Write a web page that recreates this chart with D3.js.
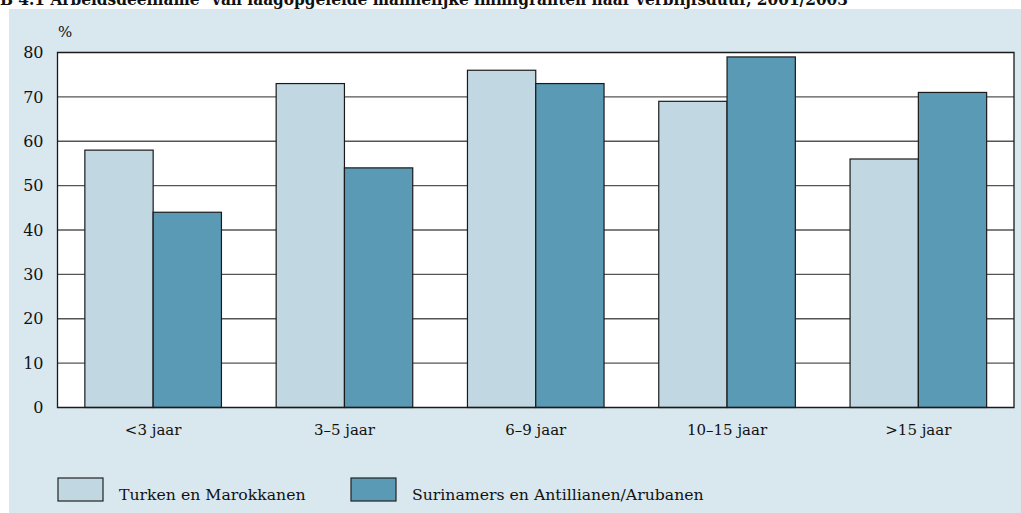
<!DOCTYPE html>
<html>
<head>
<meta charset="utf-8">
<script src="https://cdn.jsdelivr.net/npm/d3@7"></script>
<style>
  html, body { margin: 0; padding: 0; background: #ffffff; }
  svg text { font-family: "DejaVu Serif", "Liberation Serif", serif !important; }
</style>
</head>
<body>
<div id="chart"></div>
<script>
// Data
const categories = ["<3 jaar", "3\u20135 jaar", "6\u20139 jaar", "10\u201315 jaar", ">15 jaar"]
const seriesNames = ["Turken en Marokkanen", "Surinamers en Antillianen/Arubanen"]
const turkenMarokkanen = [58, 73, 76, 69, 56]
const surinamersAntillianen = [44, 54, 73, 79, 71]
const yTicks = [0, 10, 20, 30, 40, 50, 60, 70, 80]
const title = "B 4.1  Arbeidsdeelname\u1d43 van laagopgeleide mannelijke immigranten naar verblijfsduur, 2001/2003"

const width = 1021
const height = 513
const colors = ["#c1d8e3", "#5a9ab5"]

// plot bounds
const margin = { top: 52.5, right: 7, bottom: 105.5, left: 57.5 }
const plotW = width - margin.left - margin.right
const plotH = height - margin.top - margin.bottom

const table = categories.map((c, i) => ({
    cat: c,
    values: [turkenMarokkanen[i], surinamersAntillianen[i]]
}))

const svg = d3.select("#chart")
    .append("svg")
    .attr("width", width)
    .attr("height", height)

// light blue panel behind everything
svg.append("rect")
    .attr("x", 9).attr("y", 9)
    .attr("width", width - 9).attr("height", height - 9)
    .attr("fill", "#d9e7ef")

// title, cut off at the top like the source
svg.append("text")
    .attr("x", 0).attr("y", 5)
    .attr("font-size", 16)
    .attr("font-weight", "bold")
    .attr("textLength", 848)
    .attr("lengthAdjust", "spacingAndGlyphs")
    .attr("fill", "#111")
    .text(title)

const g = svg.append("g")
    .attr("transform", translate(margin.left, margin.top))

const x0 = d3.scaleBand()
    .domain(categories)
    .range([0, plotW])
    .padding(0)

const groupW = x0.step() * 0.714
const x1 = d3.scaleBand()
    .domain([0, 1])
    .range([0, groupW])

const y = d3.scaleLinear()
    .domain([0, 80])
    .range([plotH, 0])

// plot background
g.append("rect")
    .attr("width", plotW).attr("height", plotH)
    .attr("fill", "#ffffff")

// grid lines
g.append("g")
    .selectAll("line")
    .data(yTicks.filter(d => d > 0 && d < 80))
    .join("line")
    .attr("x1", 0).attr("x2", plotW)
    .attr("y1", d => y(d)).attr("y2", d => y(d))
    .attr("stroke", "#555")
    .attr("stroke-width", 1.4)

// bars
const groups = g.append("g")
    .selectAll("g")
    .data(table)
    .join("g")
    .attr("transform", d => translate(x0(d.cat) + (x0.step() - groupW) / 2, 0))

groups.selectAll("rect")
    .data(d => d.values.map((v, k) => ({ k, v })))
    .join("rect")
    .attr("x", d => x1(d.k))
    .attr("y", d => y(d.v))
    .attr("width", x1.bandwidth())
    .attr("height", d => plotH - y(d.v))
    .attr("fill", d => colors[d.k])
    .attr("stroke", "#1a1a1a")
    .attr("stroke-width", 1.2)

// frame: left, top, right, bottom
g.append("path")
    .attr("d", `M0,${plotH}V0H${plotW}V${plotH}Z`)
    .attr("fill", "none")
    .attr("stroke", "#1a1a1a")
    .attr("stroke-width", 1.3)

// y axis labels
const yAxis = g.append("g")
    .call(d3.axisLeft(y).tickValues(yTicks).tickSize(0).tickPadding(14))
yAxis.select(".domain").remove()
yAxis.selectAll("text")
    .attr("font-size", 16)
    .attr("fill", "#111")

// x axis labels
const xAxis = g.append("g")
    .attr("transform", translate(0, plotH))
    .call(d3.axisBottom(x0).tickSize(0).tickPadding(17))
xAxis.select(".domain").remove()
xAxis.selectAll("text")
    .attr("font-size", 15)
    .attr("fill", "#111")

// unit
svg.append("text")
    .attr("x", 58).attr("y", 37)
    .attr("font-size", 15)
    .attr("fill", "#111")
    .text("%")

// legend
const legendX = [58, 351]
const legend = svg.append("g")
    .selectAll("g")
    .data(seriesNames)
    .join("g")
    .attr("transform", (d, i) => translate(legendX[i], 478))
legend.append("rect")
    .attr("width", 45).attr("height", 23)
    .attr("fill", (d, i) => colors[i])
    .attr("stroke", "#222")
    .attr("stroke-width", 1.2)
legend.append("text")
    .attr("x", 61).attr("y", 22)
    .attr("font-size", 15.7)
    .attr("fill", "#111")
    .text(d => d)

function translate(x, y) {
    return `translate(${x},${y})`
}
</script>
</body>
</html>
